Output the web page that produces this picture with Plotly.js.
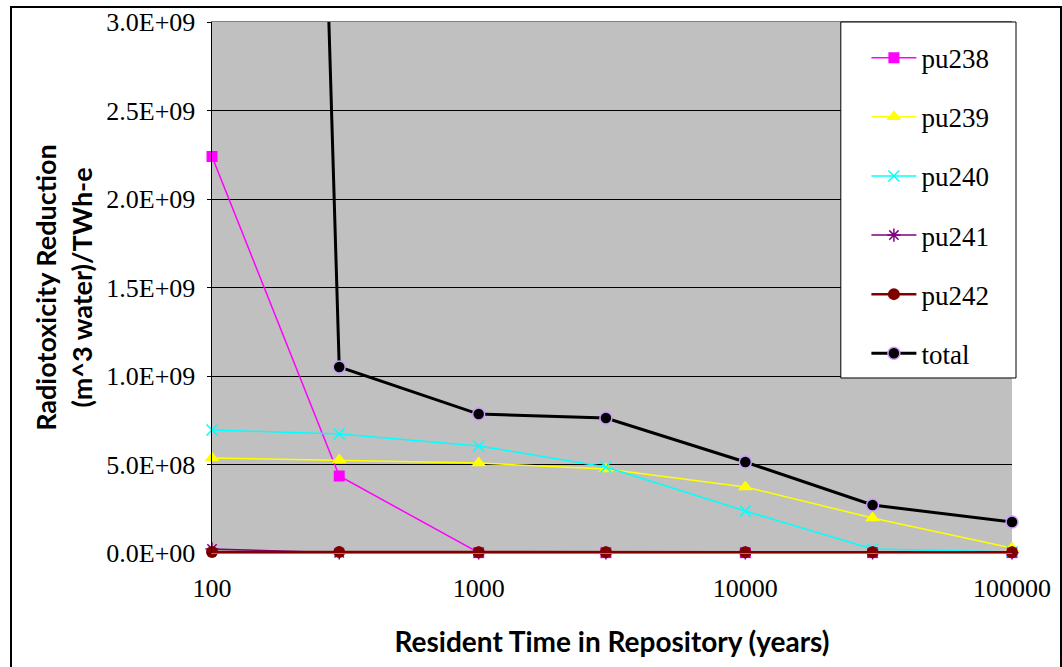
<!DOCTYPE html>
<html>
<head>
<meta charset="utf-8">
<script src="https://cdn.plot.ly/plotly-3.0.1.min.js"></script>
<style>
html,body{margin:0;padding:0;background:#fff;}
#wrap{position:relative;width:1062px;height:667px;overflow:hidden;}
#chart{position:absolute;left:0;top:0;width:1062px;height:667px;}
#frame{position:absolute;left:10px;top:6px;width:1048px;height:700px;border:2px solid #000;pointer-events:none;}
</style>
</head>
<body>
<div id="wrap"><div id="chart"></div><div id="frame"></div></div>
<script>
// Data
const years = [100, 300, 1000, 3000, 10000, 30000, 100000];
const pu238 = [2.24e9, 0.435e9, 0.002e9, 0.002e9, 0.002e9, 0.002e9, 0.002e9];
const pu239 = [0.537e9, 0.525e9, 0.508e9, 0.475e9, 0.373e9, 0.198e9, 0.028e9];
const pu240 = [0.695e9, 0.672e9, 0.605e9, 0.486e9, 0.237e9, 0.023e9, 0.006e9];
const pu241 = [0.023e9, 0.001e9, 0.001e9, 0.001e9, 0.001e9, 0.001e9, 0.001e9];
const pu242 = [0.006e9, 0.005e9, 0.004e9, 0.004e9, 0.004e9, 0.004e9, 0.004e9];
const total = [2.5e10, 1.051e9, 0.785e9, 0.763e9, 0.514e9, 0.271e9, 0.175e9];

const yTickVals = [0, 0.5e9, 1.0e9, 1.5e9, 2.0e9, 2.5e9, 3.0e9];
const yTickText = ["0.0E+00", "5.0E+08", "1.0E+09", "1.5E+09", "2.0E+09", "2.5E+09", "3.0E+09"];
const xTickVals = [100, 1000, 10000, 100000];
const xTickText = ["100", "1000", "10000", "100000"];

const serif = "Liberation Serif, Times New Roman, serif";
const sans = "Lato, Open Sans, sans-serif";

function tr(name, y, color, lw, marker, group) {
  return {
    type: "scatter", mode: "lines+markers", name: name, x: years, y: y,
    line: {color: color, width: lw}, marker: marker, cliponaxis: false,
    legendgroup: group
  };
}

const traces = [
  tr("pu238", pu238, "#FF00FF", 1.5, {symbol: "square", size: 11, color: "#FF00FF"}, "a"),
  tr("pu239", pu239, "#FFFF00", 1.5, {symbol: "triangle-up", size: 13, color: "#FFFF00"}, "b"),
  tr("pu240", pu240, "#00FFFF", 1.5, {symbol: "x-thin-open", size: 11, color: "#00FFFF", line: {color: "#00FFFF", width: 1.5}}, "c"),
  tr("pu241", pu241, "#800080", 1.5, {symbol: "asterisk-open", size: 11, color: "#800080", line: {color: "#800080", width: 1.5}}, "d"),
  tr("pu242", pu242, "#800000", 2.5, {symbol: "circle", size: 12, color: "#800000"}, "e"),
  tr("total", total, "#000000", 3, {symbol: "circle", size: 12, color: "#000000", line: {color: "#CC99FF", width: 1.5}}, "f")
];

const layout = {
  width: 1062, height: 667,
  margin: {l: 212, r: 50, t: 22, b: 114},
  paper_bgcolor: "#ffffff",
  plot_bgcolor: "#C0C0C0",
  showlegend: true,
  legend: {
    x: 0.818, y: 0.978, xanchor: "left", yanchor: "top",
    bgcolor: "rgba(0,0,0,0)", borderwidth: 0,
    font: {family: serif, size: 27, color: "#000"},
    tracegroupgap: 21, itemwidth: 45
  },
  xaxis: {
    type: "log", range: [2, 5],
    tickvals: xTickVals, ticktext: xTickText,
    showgrid: false, zeroline: false,
    showline: true, linecolor: "#808080", linewidth: 1, mirror: true,
    ticks: "", ticklabelstandoff: 12,
    tickfont: {family: serif, size: 26, color: "#000"},
    title: {text: "Resident Time in Repository (years)", font: {family: sans, size: 28, color: "#000", weight: "bold"}, standoff: 30}
  },
  yaxis: {
    range: [0, 3e9],
    tickvals: yTickVals, ticktext: yTickText,
    showgrid: true, gridcolor: "#000000", gridwidth: 1,
    zeroline: false,
    showline: true, linecolor: "#000000", linewidth: 1.5,
    ticks: "outside", ticklen: 4, tickcolor: "#000",
    ticklabelstandoff: 6,
    tickfont: {family: serif, size: 26, color: "#000"},
    title: {text: "Radiotoxicity Reduction<br>(m^3 water)/TWh-e", font: {family: sans, size: 27, color: "#000", weight: "bold"}, standoff: 6}
  },
  shapes: [{
    type: "rect", xref: "paper", yref: "paper", layer: "above",
    x0: 0.786, x1: 1.005, y0: 0.3296, y1: 1,
    fillcolor: "#ffffff", line: {color: "#000000", width: 1}
  }]
};

Plotly.newPlot("chart", traces, layout, {displayModeBar: false, staticPlot: true});
</script>
</body>
</html>
